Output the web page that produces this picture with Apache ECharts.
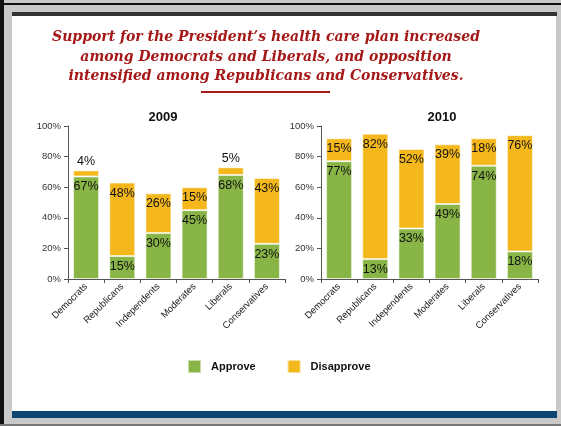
<!DOCTYPE html>
<html>
<head>
<meta charset="utf-8">
<script src="https://cdn.jsdelivr.net/npm/echarts@6/dist/echarts.min.js"></script>
<style>
  html, body { margin: 0; padding: 0; background: #fff; }
  #chart { width: 561px; height: 426px; }
</style>
</head>
<body>
<div id="chart"></div>
<script>
var categories = ['Democrats', 'Republicans', 'Independents', 'Moderates', 'Liberals', 'Conservatives'];
var approve2009 = [67, 15, 30, 45, 68, 23];
var disapprove2009 = [4, 48, 26, 15, 5, 43];
var approve2010 = [77, 13, 33, 49, 74, 18];
var disapprove2010 = [15, 82, 52, 39, 18, 76];
var yTicks = [0, 20, 40, 60, 80, 100];

var GREEN = '#88b546';
var YELLOW = '#f4b81d';

// 基于准备好的dom，初始化echarts实例
var myChart = echarts.init(document.getElementById('chart'));

function labelled(values, smallOnTop) {
  return values.map(function (v) {
    var item = { value: v };
    if (smallOnTop && v < 10) {
      item.label = { position: 'top', distance: 2 };
    }
    return item;
  });
}

function xAxis(idx) {
  return {
    type: 'category',
    gridIndex: idx,
    data: categories,
    axisLine: { lineStyle: { color: '#555', width: 1 } },
    axisTick: { show: true, length: 4, lineStyle: { color: '#555' } },
    axisLabel: { rotate: 45, fontFamily: 'Arial', fontSize: 9.5, color: '#222', margin: 6, interval: 0 }
  };
}

function yAxis(idx) {
  return {
    type: 'value',
    gridIndex: idx,
    min: 0,
    max: 100,
    interval: 20,
    axisLine: { show: true, lineStyle: { color: '#555', width: 1 } },
    axisTick: { show: true, length: 4, lineStyle: { color: '#555' } },
    splitLine: { show: false },
    axisLabel: {
      fontFamily: 'Arial', fontSize: 9.5, color: '#333', margin: 7,
      formatter: function (v) { return yTicks.indexOf(v) >= 0 ? v + '%' : ''; }
    }
  };
}

function series(name, data, idx, color, smallOnTop) {
  return {
    name: name,
    type: 'bar',
    stack: 'y' + idx,
    xAxisIndex: idx,
    yAxisIndex: idx,
    barWidth: 26,
    data: labelled(data, smallOnTop),
    itemStyle: { color: color, borderColor: 'rgba(255,255,255,0.55)', borderWidth: 1 },
    label: {
      show: true,
      position: 'insideTop',
      distance: 4,
      fontFamily: 'Arial',
      fontSize: 12.5,
      color: '#111',
      formatter: '{c}%'
    }
  };
}

myChart.setOption({
  animation: false,
  backgroundColor: '#fff',
  graphic: [
    { type: 'rect', shape: { x: 0, y: 0, width: 561, height: 426 }, style: { fill: '#c9c9c9' }, z: -10 },
    { type: 'rect', shape: { x: 0, y: 0, width: 4, height: 426 }, style: { fill: '#111' }, z: -9 },
    { type: 'rect', shape: { x: 0, y: 3, width: 561, height: 2 }, style: { fill: '#111' }, z: -9 },
    { type: 'rect', shape: { x: 12, y: 12, width: 545, height: 4 }, style: { fill: '#333' }, z: -9 },
    { type: 'rect', shape: { x: 12, y: 16, width: 544, height: 396 }, style: { fill: '#fff' }, z: -9 },
    { type: 'rect', shape: { x: 12, y: 411, width: 545, height: 7 }, style: { fill: '#0f4571' }, z: -9 },
    { type: 'rect', shape: { x: 0, y: 424, width: 561, height: 2 }, style: { fill: '#777' }, z: -9 },
    {
      type: 'text', x: 266, y: 28,
      style: {
        text: 'Support for the President\u2019s health care plan increased\namong Democrats and Liberals, and opposition\nintensified among Republicans and Conservatives.',
        font: 'italic bold 14px "DejaVu Serif"',
        fill: '#a51818',
        textAlign: 'center',
        lineHeight: 19.5
      }
    },
    { type: 'rect', shape: { x: 201, y: 91, width: 129, height: 2 }, style: { fill: '#a51818' } }
  ],
  title: [
    { text: '2009', left: 158, top: 106, textAlign: 'center', textStyle: { fontFamily: 'Arial', fontWeight: 'bold', fontSize: 13, color: '#111' } },
    { text: '2010', left: 437, top: 106, textAlign: 'center', textStyle: { fontFamily: 'Arial', fontWeight: 'bold', fontSize: 13, color: '#111' } }
  ],
  legend: {
    data: ['Approve', 'Disapprove'],
    left: 187,
    top: 359,
    padding: 0,
    itemWidth: 13,
    itemHeight: 13,
    itemGap: 31,
    icon: 'rect',
    textStyle: { fontFamily: 'Arial', fontWeight: 'bold', fontSize: 11, color: '#111', padding: [0, 0, 0, 5] }
  },
  grid: [
    { left: 68, right: 276, top: 126, bottom: 147 },
    { left: 321, right: 23, top: 126, bottom: 147 }
  ],
  xAxis: [xAxis(0), xAxis(1)],
  yAxis: [yAxis(0), yAxis(1)],
  series: [
    series('Approve', approve2009, 0, GREEN, false),
    series('Disapprove', disapprove2009, 0, YELLOW, true),
    series('Approve', approve2010, 1, GREEN, false),
    series('Disapprove', disapprove2010, 1, YELLOW, true)
  ]
});

window.onresize = function () {
  myChart.resize();
};
</script>
</body>
</html>
